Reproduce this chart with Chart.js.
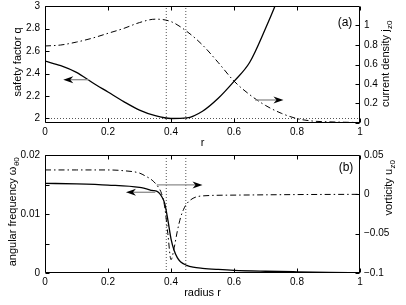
<!DOCTYPE html>
<html>
<head>
<meta charset="utf-8">
<script src="https://cdn.jsdelivr.net/npm/chart.js@4.4.1/dist/chart.umd.min.js"></script>
<style>
body{margin:0;background:#fff;}
#wrap{position:relative;width:406px;height:305px;background:#fff;}
canvas{position:absolute;left:0;}
</style>
</head>
<body>
<div id="wrap">
<canvas id="chartA" width="406" height="150" style="top:0"></canvas>
<canvas id="chartB" width="406" height="155" style="top:150px"></canvas>
</div>
<script>

/* panel (a): safety factor and current density */
const rA = [0,0.05,0.1,0.15,0.2,0.25,0.3,0.35,0.4,0.45,0.5,0.55,0.6,0.65,0.7,0.75,0.8,0.85,0.9,0.95,1];
const safetyQ = [2.51,2.47,2.41,2.32,2.235,2.15,2.075,2.025,2.0,2.005,2.065,2.18,2.33,2.5,2.8,3.14,3.55,4.0,4.5,5.0,5.5];
const currentJ = [0.79,0.80,0.83,0.87,0.92,0.97,1.03,1.065,1.04,0.94,0.80,0.62,0.43,0.29,0.18,0.10,0.045,0.02,0.012,0.008,0.005];

/* panel (b): angular frequency and vorticity */
const rOmega = [0,0.1,0.2,0.3,0.34,0.36,0.37,0.38,0.39,0.4,0.41,0.42,0.43,0.45,0.47,0.5,0.55,0.6,0.7,0.8,0.9,1];
const omega = [0.0152,0.0151,0.0149,0.0145,0.0140,0.0137,0.0130,0.0118,0.0090,0.0058,0.0038,0.0026,0.0019,0.0013,0.0010,0.0008,0.0006,0.00045,0.0003,0.0002,0.00012,0.00006];
const rU = [0,0.1,0.2,0.25,0.3,0.32,0.34,0.36,0.37,0.38,0.39,0.4,0.41,0.42,0.43,0.44,0.45,0.47,0.5,0.6,0.8,1];
const vortU = [0.031,0.031,0.031,0.030,0.027,0.023,0.018,0.009,0.001,-0.016,-0.05,-0.083,-0.068,-0.047,-0.030,-0.019,-0.012,-0.005,-0.002,-0.001,-0.0003,0];

/* dotted markers */
const resonantR = [0.385, 0.447];
const qRef = 2;

/* ticks */
const rTicks = [0,0.2,0.4,0.6,0.8,1];
const qTicks = [2,2.2,2.4,2.6,2.8,3];
const jTicks = [0,0.2,0.4,0.6,0.8,1];
const omegaTicks = [0,0.005,0.01,0.015,0.02];
const omegaTickLabels = ['0','','0.01','','0.02'];
const uTicks = [-0.1,-0.05,0,0.05];

Chart.defaults.font.family = '"Liberation Sans", Arial, Helvetica, sans-serif';
Chart.defaults.color = '#000';

function xy(xs, ys){
   return xs.map((x,i)=>({x:x, y:ys[i]}));
}

function fmt(v){
   return String(v).replace('-', '\u2212');
}

function vLabel(ctx, x, y, main, sub){
   ctx.save();
   ctx.font = '11px "Liberation Sans", Arial, sans-serif';
   let wm = ctx.measureText(main).width;
   ctx.font = '8px "Liberation Sans", Arial, sans-serif';
   let ws = sub ? ctx.measureText(sub).width : 0;
   let total = wm + ws;
   ctx.translate(x, y);
   ctx.rotate(-Math.PI/2);
   ctx.fillStyle = '#000';
   ctx.textBaseline = 'middle';
   ctx.textAlign = 'left';
   ctx.font = '11px "Liberation Sans", Arial, sans-serif';
   ctx.fillText(main, -total/2, 0);
   if(sub){
      ctx.font = '8px "Liberation Sans", Arial, sans-serif';
      ctx.fillText(sub, -total/2 + wm + 0.5, 3.5);
   }
   ctx.restore();
}

const decor = {
   id: 'decor',
   afterDatasetsDraw(chart, args, opts){
      const ctx = chart.ctx;
      const a = chart.chartArea;
      const sx = chart.scales.x;
      ctx.save();

      /* arrows */
      (opts.arrows || []).forEach(ar => {
         let y = chart.scales[ar.axis].getPixelForValue(ar.y);
         let x0 = sx.getPixelForValue(ar.from);
         let x1 = sx.getPixelForValue(ar.to);
         let d = Math.sign(x1 - x0);
         ctx.strokeStyle = '#8c8c8c';
         ctx.lineWidth = 1.3;
         ctx.beginPath();
         ctx.moveTo(x0, y);
         ctx.lineTo(x1 - d*7, y);
         ctx.stroke();
         ctx.fillStyle = '#000';
         ctx.beginPath();
         ctx.moveTo(x1, y);
         ctx.lineTo(x1 - d*10, y - 3.5);
         ctx.lineTo(x1 - d*7, y);
         ctx.lineTo(x1 - d*10, y + 3.5);
         ctx.closePath();
         ctx.fill();
      });

      /* box and inward ticks */
      let L = Math.round(a.left) + 0.5, R = Math.round(a.right) - 0.5;
      let T = Math.round(a.top) + 0.5, B = Math.round(a.bottom) - 0.5;
      ctx.strokeStyle = '#000';
      ctx.lineWidth = 1;
      ctx.beginPath();
      ctx.rect(L, T, R - L, B - T);
      sx.ticks.forEach(t => {
         let px = Math.round(sx.getPixelForValue(t.value)) + 0.5;
         ctx.moveTo(px, B); ctx.lineTo(px, B - 4);
         ctx.moveTo(px, T); ctx.lineTo(px, T + 4);
      });
      chart.scales.y.ticks.forEach(t => {
         let py = Math.round(chart.scales.y.getPixelForValue(t.value)) + 0.5;
         ctx.moveTo(L, py); ctx.lineTo(L + 4, py);
      });
      chart.scales.y1.ticks.forEach(t => {
         let py = Math.round(chart.scales.y1.getPixelForValue(t.value)) + 0.5;
         ctx.moveTo(R, py); ctx.lineTo(R - 4, py);
      });
      ctx.stroke();

      /* titles */
      let t = opts.titles;
      vLabel(ctx, t.left.x, t.left.y, t.left.text, t.left.sub);
      vLabel(ctx, t.right.x, t.right.y, t.right.text, t.right.sub);
      ctx.fillStyle = '#000';
      ctx.textAlign = 'center';
      ctx.textBaseline = 'middle';
      ctx.font = '11px "Liberation Sans", Arial, sans-serif';
      ctx.fillText(t.bottom.text, (a.left + a.right)/2, t.bottom.y);
      ctx.font = '12px "Liberation Sans", Arial, sans-serif';
      ctx.fillText(t.panel.text, t.panel.x, t.panel.y);
      ctx.restore();
   }
};

function xScale(h){
   return {
      type: 'linear', min: 0, max: 1,
      afterBuildTicks: s => { s.ticks = rTicks.map(v => ({value: v})); },
      afterFit: s => { s.height = h; s.paddingLeft = 0; s.paddingRight = 0; },
      grid: {display: false, drawTicks: false},
      border: {display: false},
      ticks: {autoSkip: false, maxRotation: 0, padding: 3, font: {size: 10}, callback: v => fmt(v)}
   };
}

function yScale(pos, min, max, tickVals, labels){
   return {
      type: 'linear', position: pos, min: min, max: max,
      afterBuildTicks: s => { s.ticks = tickVals.map(v => ({value: v})); },
      afterFit: s => { s.width = (pos === 'left') ? 45 : 46; s.paddingTop = 0; s.paddingBottom = 0; },
      grid: {display: false, drawTicks: false},
      border: {display: false},
      ticks: {
         autoSkip: false, padding: (pos === 'left') ? 5 : 4, font: {size: 10},
         callback: (v, i) => labels ? labels[i] : fmt(v)
      }
   };
}

function refLine(data, axis){
   return {
      data: data, yAxisID: axis,
      borderColor: '#555', borderWidth: 1, borderDash: [1,2],
      pointRadius: 0, fill: false
   };
}

function solid(data, axis){
   return {
      data: data, yAxisID: axis,
      borderColor: '#000', borderWidth: 1.3,
      pointRadius: 0, fill: false, cubicInterpolationMode: 'monotone'
   };
}

function dashDot(data, axis){
   return {
      data: data, yAxisID: axis,
      borderColor: '#000', borderWidth: 1, borderDash: [6,3,1.5,3],
      pointRadius: 0, fill: false, cubicInterpolationMode: 'monotone'
   };
}

const commonOpts = {
   responsive: false,
   animation: false,
   events: [],
   plugins: {legend: {display: false}, tooltip: {enabled: false}}
};

new Chart(document.getElementById('chartA'), {
   type: 'line',
   data: {
      datasets: [
         solid(xy(rA, safetyQ), 'y'),
         dashDot(xy(rA, currentJ), 'y1'),
         refLine([{x: resonantR[0], y: 1.96}, {x: resonantR[0], y: 3}], 'y'),
         refLine([{x: resonantR[1], y: 1.96}, {x: resonantR[1], y: 3}], 'y'),
         refLine([{x: 0, y: qRef}, {x: 1, y: qRef}], 'y')
      ]
   },
   options: Object.assign({}, commonOpts, {
      layout: {padding: {top: 6, left: 0, right: 0, bottom: 0}},
      scales: {
         x: xScale(27),
         y: yScale('left', 1.96, 3, qTicks),
         y1: yScale('right', 0, 1.2, jTicks)
      },
      plugins: Object.assign({}, commonOpts.plugins, {
         decor: {
            arrows: [
               {axis: 'y', y: 2.345, from: 0.14, to: 0.058},
               {axis: 'y1', y: 0.236, from: 0.667, to: 0.757}
            ],
            titles: {
               left: {text: 'safety factor q', x: 18, y: 62},
               right: {text: 'current density j', sub: 'z0', x: 386, y: 64},
               bottom: {text: 'r', y: 143},
               panel: {text: '(a)', x: 345, y: 23}
            }
         }
      })
   }),
   plugins: [decor]
});

new Chart(document.getElementById('chartB'), {
   type: 'line',
   data: {
      datasets: [
         solid(xy(rOmega, omega), 'y'),
         dashDot(xy(rU, vortU), 'y1'),
         refLine([{x: resonantR[0], y: 0}, {x: resonantR[0], y: 0.02}], 'y'),
         refLine([{x: resonantR[1], y: 0}, {x: resonantR[1], y: 0.02}], 'y')
      ]
   },
   options: Object.assign({}, commonOpts, {
      layout: {padding: {top: 5, left: 0, right: 0, bottom: 0}},
      scales: {
         x: xScale(32),
         y: yScale('left', 0, 0.02, omegaTicks, omegaTickLabels),
         y1: yScale('right', -0.1, 0.05, uTicks)
      },
      plugins: Object.assign({}, commonOpts.plugins, {
         decor: {
            arrows: [
               {axis: 'y', y: 0.01368, from: 0.35, to: 0.257},
               {axis: 'y1', y: 0.0119, from: 0.355, to: 0.50}
            ],
            titles: {
               left: {text: 'angular frequency \u03c9', sub: '\u03b80', x: 13, y: 62},
               right: {text: 'vorticity u', sub: 'z0', x: 389, y: 38},
               bottom: {text: 'radius r', y: 143},
               panel: {text: '(b)', x: 346, y: 18}
            }
         }
      })
   }),
   plugins: [decor]
});

</script>
</body>
</html>
